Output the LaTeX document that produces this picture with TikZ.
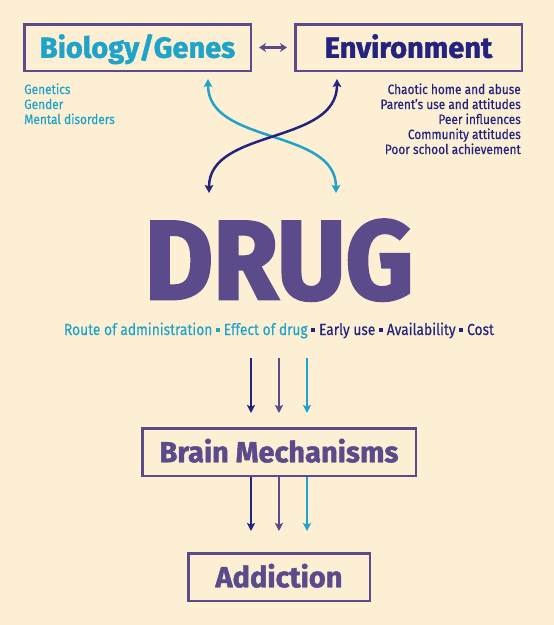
\documentclass[tikz,border=0pt]{standalone}
\usepackage{fontspec}
\setmainfont{Fira Sans}
\newfontfamily\heavyfont{Fira Sans}[UprightFont={* Bold}, FakeBold=1.6]
\newfontfamily\drugfont{Fira Sans}[UprightFont={* Bold}, FakeBold=2.4, FakeStretch=0.94]
\newfontfamily\narrowfont{Fira Sans}[FakeStretch=0.86, FakeBold=0.3]
\newfontfamily\listfont{Fira Sans}[FakeStretch=0.88, FakeBold=0.4]
\usetikzlibrary{arrows.meta,calc}
\definecolor{bg}{HTML}{FCEFD4}
\definecolor{cy}{HTML}{1FA3C9}
\definecolor{nv}{HTML}{24247F}
\definecolor{pu}{HTML}{5B4B8B}
\newcommand\bulsq{\raisebox{0.2em}{\rule{0.26em}{0.26em}}}
\tikzset{
  box/.style={draw=pu, line width=2.5pt, inner sep=0pt, text height=20.5pt, text depth=0pt,
    font=\heavyfont\fontsize{29}{29}\selectfont},
  small/.style={inner sep=0pt, font=\listfont\fontsize{13.5}{13.5}\selectfont},
  curve/.style={line width=2.5pt, {Stealth[length=8pt,width=8.5pt,inset=1.5pt]}-{Stealth[length=8pt,width=8.5pt,inset=1.5pt]}},
  down/.style={line width=2pt, -{Stealth[length=8pt,width=8pt,inset=1.5pt]}}
}
\begin{document}
\begin{tikzpicture}[x=1pt,y=-1pt]
\fill[bg] (0,0) rectangle (554,625);
\useasboundingbox (0,0) rectangle (554,625);
% top boxes
\node[box, minimum width=226.5pt, minimum height=46.5pt, text=cy] (bio) at (137.5,47.5) {Biology/Genes};
\node[box, minimum width=226.5pt, minimum height=46.5pt, text=nv] (env) at (408.5,47.5) {Environment};
\draw[pu, line width=2.5pt, {Stealth[length=7pt,width=9pt]}-{Stealth[length=7pt,width=9pt]}]
  ([xshift=7pt]bio.east) -- ([xshift=-7pt]env.west);
% lists
\node[small, text=cy, anchor=base west] (g1) at (24,94) {Genetics};
\node[small, text=cy, anchor=base west] (g2) at (24,109) {Gender};
\node[small, text=cy, anchor=base west] (g3) at (24,124) {Mental disorders};
\node[small, text=nv, anchor=base east] (e1) at (521,94) {Chaotic home and abuse};
\node[small, text=nv, anchor=base east] (e2) at (521,109) {Parent’s use and attitudes};
\node[small, text=nv, anchor=base east] (e3) at (521,124) {Peer influences};
\node[small, text=nv, anchor=base east] (e4) at (521,139) {Community attitudes};
\node[small, text=nv, anchor=base east] (e5) at (521,154) {Poor school achievement};
% crossing curves
\coordinate (cyT) at (208,79);
\coordinate (cyB) at (336,193);
\coordinate (nvT) at (337,79);
\coordinate (nvB) at (209,193);
\draw[cy, curve] (cyT) .. controls (208,145) and (336,128) .. (cyB);
\draw[nv, curve] (nvT) .. controls (337,145) and (209,128) .. (nvB);
% DRUG
\node[inner sep=0pt, anchor=base, text=pu, font=\drugfont\fontsize{112}{112}\selectfont] (drug) at (279,299) {DRUG};
\node[inner sep=0pt, anchor=base, font=\narrowfont\fontsize{16}{16}\selectfont] (route) at (279,335)
  {\textcolor{cy}{Route of administration \bulsq{} Effect of drug} \textcolor{nv}{\bulsq{} Early use \bulsq{} Availability \bulsq{} Cost}};
% lower boxes
\node[box, minimum width=273.5pt, minimum height=47.5pt, text=pu] (brain) at (279,452) {Brain Mechanisms};
\node[box, minimum width=181.5pt, minimum height=47.5pt, text=pu] (add) at (279,577) {Addiction};
% down arrows
\coordinate (s1) at (251,358);
\coordinate (s2) at (279,358);
\coordinate (s3) at (307,358);
\draw[nv, down] (s1) -- ($(s1 |- brain.north)+(0,-14)$);
\draw[pu, down] (s2) -- ($(s2 |- brain.north)+(0,-14)$);
\draw[cy, down] (s3) -- ($(s3 |- brain.north)+(0,-14)$);
\draw[nv, down] (s1 |- brain.south) -- ($(s1 |- add.north)+(0,-21)$);
\draw[pu, down] (s2 |- brain.south) -- ($(s2 |- add.north)+(0,-21)$);
\draw[cy, down] (s3 |- brain.south) -- ($(s3 |- add.north)+(0,-21)$);
\end{tikzpicture}
\end{document}
